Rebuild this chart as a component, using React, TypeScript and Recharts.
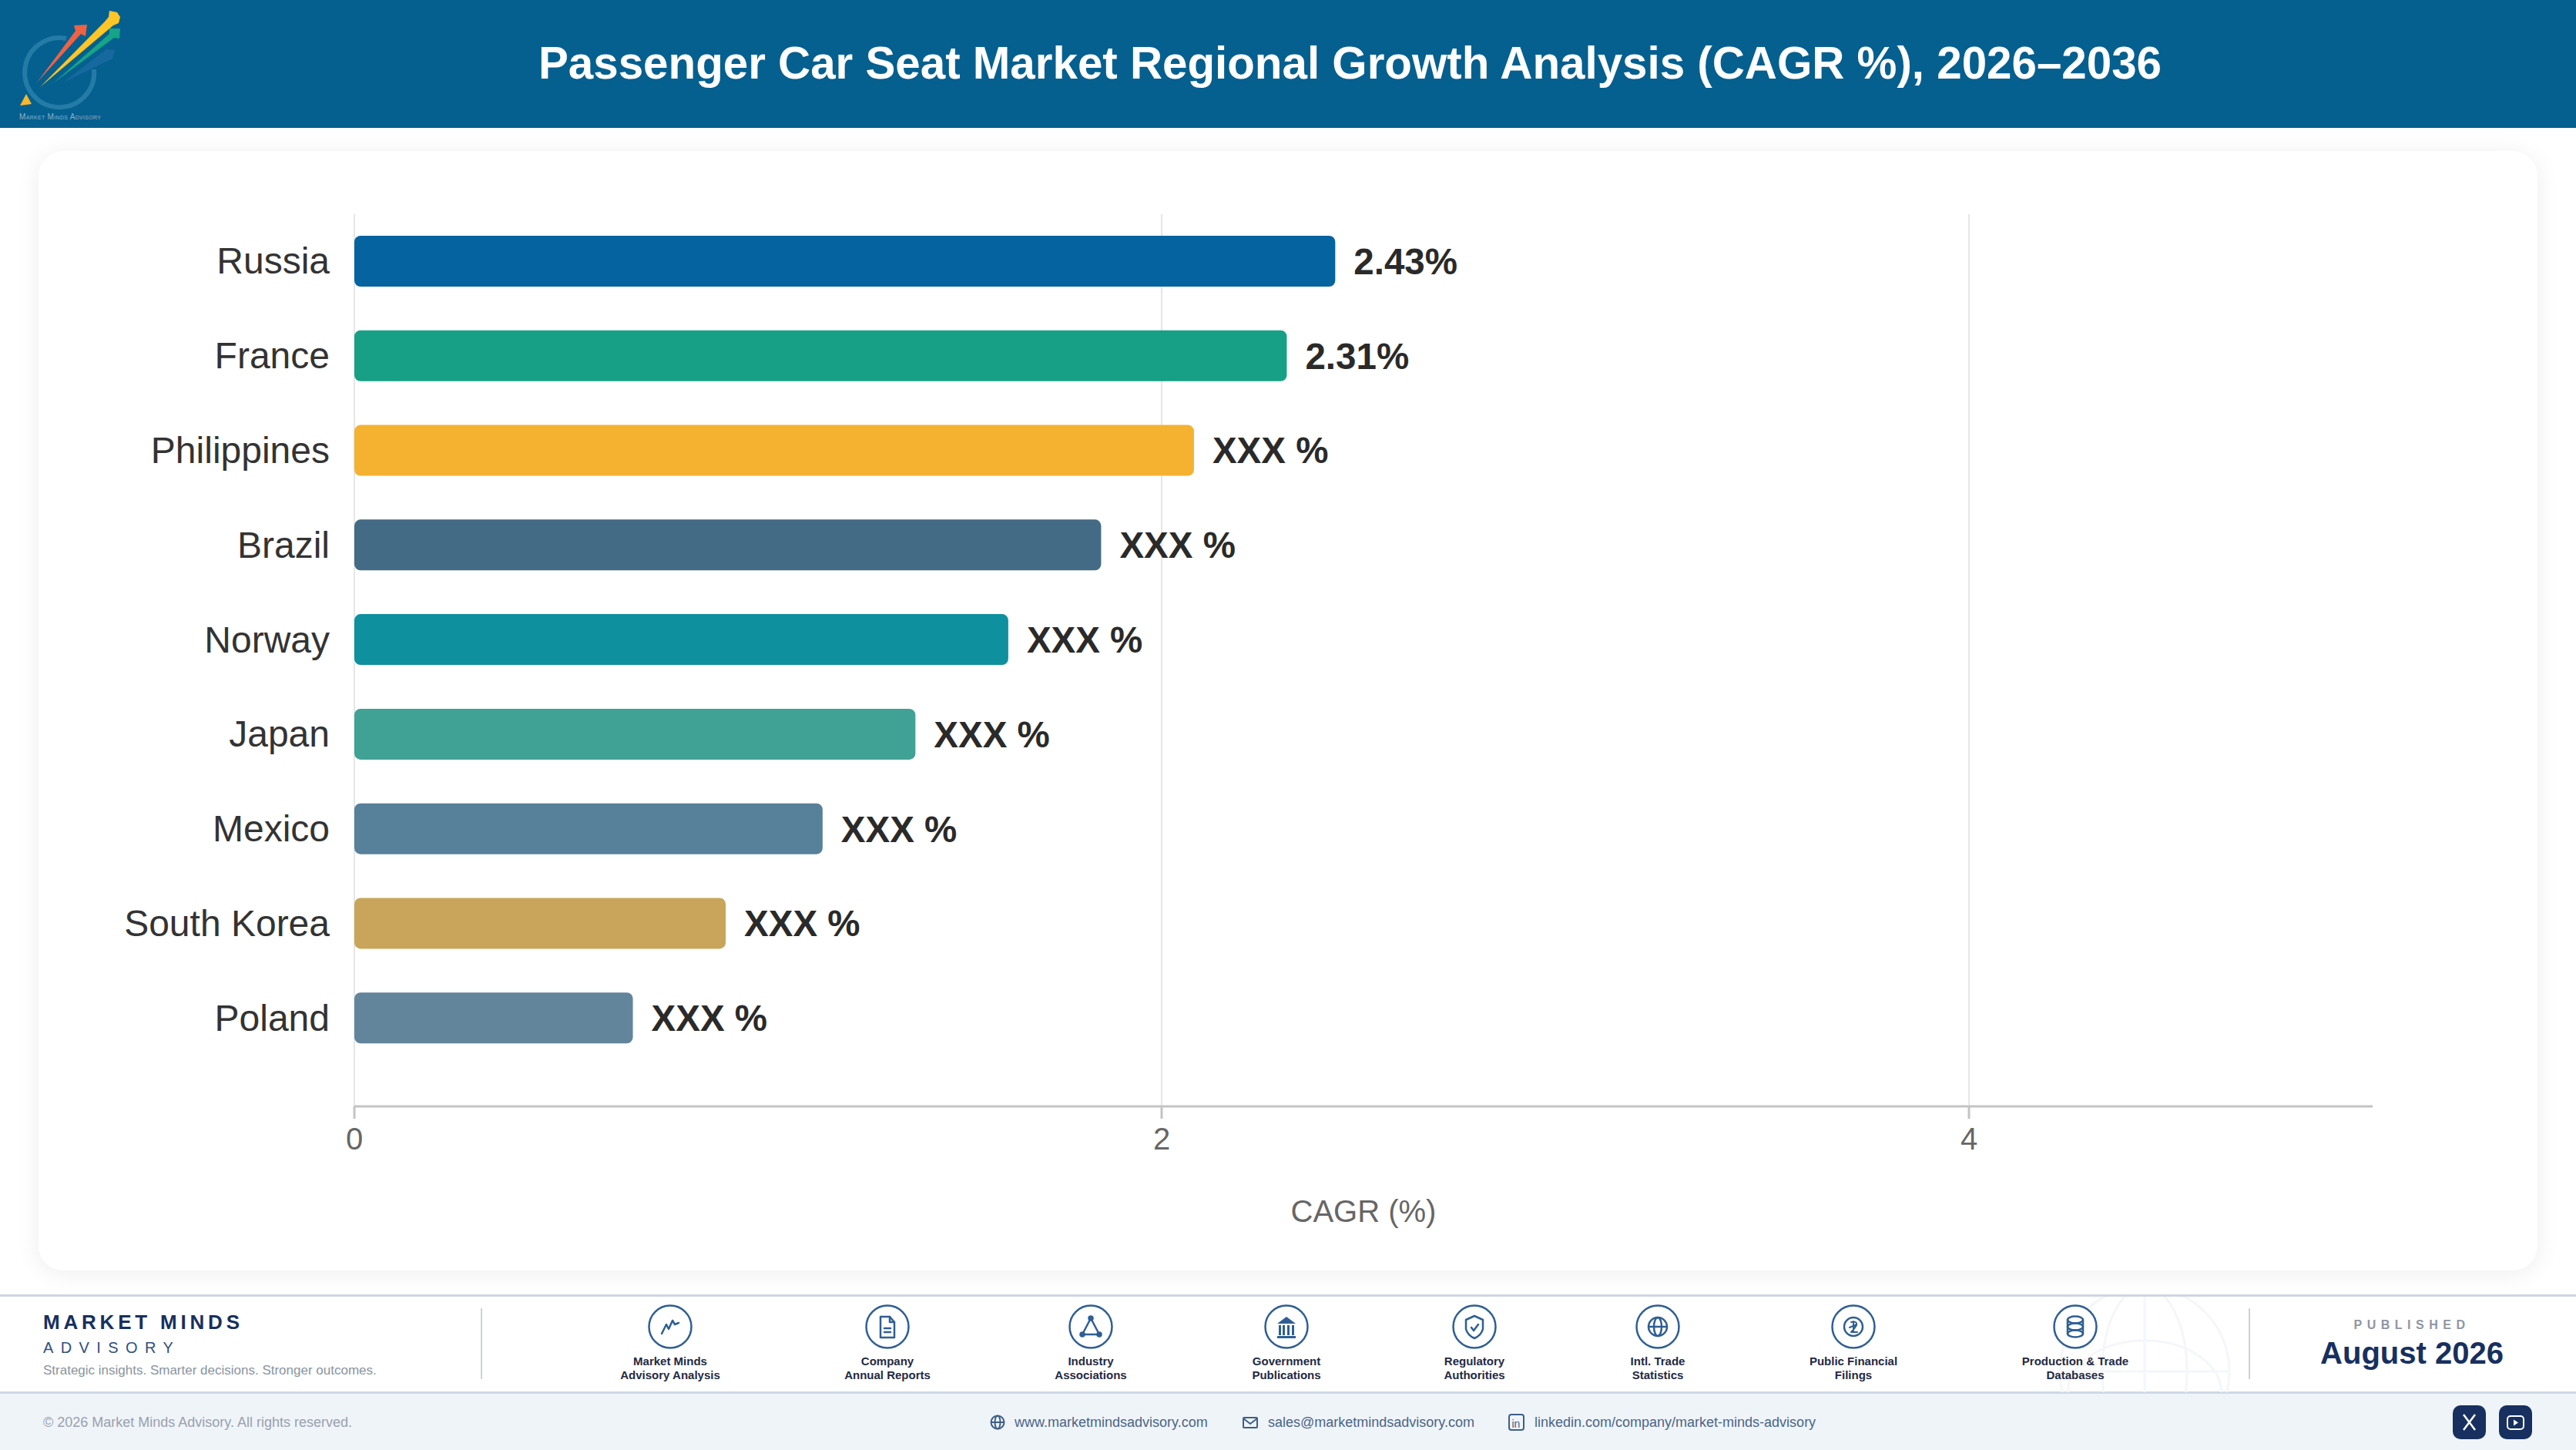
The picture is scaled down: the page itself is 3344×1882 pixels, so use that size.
import { BarChart, Bar, Cell, CartesianGrid, LabelList, XAxis, YAxis } from 'recharts';
import type { CSSProperties, ReactNode } from 'react';

const FONT = '"Liberation Sans", Arial, sans-serif';
const NAVY = '#17305f';
const ICON_BLUE = '#2f5f93';

const countries = ['Russia', 'France', 'Philippines', 'Brazil', 'Norway', 'Japan', 'Mexico', 'South Korea', 'Poland'];
const cagrValues = [2.43, 2.31, 2.08, 1.85, 1.62, 1.39, 1.16, 0.92, 0.69];
const valueLabels = ['2.43%', '2.31%', 'XXX %', 'XXX %', 'XXX %', 'XXX %', 'XXX %', 'XXX %', 'XXX %'];
const barColors = ['#0563a0', '#17a085', '#f5b130', '#436b85', '#0e909e', '#3fa295', '#57809a', '#c8a55a', '#62859c'];
const xTicks = [0, 2, 4];

const sources = [
  { id: 'trend', x: 870, lines: ['Market Minds', 'Advisory Analysis'] },
  { id: 'doc', x: 1152, lines: ['Company', 'Annual Reports'] },
  { id: 'network', x: 1416, lines: ['Industry', 'Associations'] },
  { id: 'bank', x: 1670, lines: ['Government', 'Publications'] },
  { id: 'shield', x: 1914, lines: ['Regulatory', 'Authorities'] },
  { id: 'globe', x: 2152, lines: ['Intl. Trade', 'Statistics'] },
  { id: 'coin', x: 2406, lines: ['Public Financial', 'Filings'] },
  { id: 'db', x: 2694, lines: ['Production & Trade', 'Databases'] },
];

const chartData = countries.map((name, i) => ({ name, value: cagrValues[i], label: valueLabels[i] }));

function Text({ style, children }: { style: CSSProperties; children: ReactNode }) {
  return <div style={{ position: 'absolute', fontFamily: FONT, whiteSpace: 'nowrap', lineHeight: 1, ...style }}>{children}</div>;
}

function Logo() {
  return (
    <svg style={{ position: 'absolute', left: 0, top: 0 }} width={180} height={166}>
      <path d="M 86 50 A 45 45 0 1 0 122 90" fill="none" stroke="#2f86ad" strokeWidth="6" opacity="0.75" />
      <path d="M 82 107 L 138 64 L 149 65 L 146 76 Z" fill="#1a6ca3" opacity="0.8" />
      <path d="M 48 107 L 98 40 L 96 33 L 113 32 L 111 47 L 105 44 Z" fill="#ef6244" />
      <path d="M 52 113 L 136 28 L 141 22 L 142 14 L 152 16 L 156 22 L 154 30 L 147 33 Z" fill="#fdc526" />
      <path d="M 69 108 L 142 44 L 142 37 L 156 37 L 155 50 L 148 49 Z" fill="#16a487" />
      <path d="M 34 122 L 26 137 L 41 135 Z" fill="#fbb62a" />
      <text x="25" y="155" fontFamily={FONT} fontSize="10" fill="#8fb0c5" style={{ fontVariant: 'small-caps' }} textLength="106">
        Market Minds Advisory
      </text>
    </svg>
  );
}

function SourceGlyph({ id }: { id: string }) {
  const s = { fill: 'none', stroke: ICON_BLUE, strokeWidth: 2.5, strokeLinejoin: 'round' as const, strokeLinecap: 'round' as const };
  switch (id) {
    case 'trend':
      return <path d="M -11 9 L -5 -3 L -2 3 L 3 -8 L 6 -3 L 11 -5" {...s} />;
    case 'doc':
      return (
        <g {...s}>
          <path d="M -9 -13 L 3 -13 L 9 -6 L 9 14 L -9 14 Z" />
          <path d="M 3 -13 L 3 -6 L 9 -6 M -4 2 L 4 2 M -4 7 L 4 7" />
        </g>
      );
    case 'network':
      return (
        <g {...s}>
          <path d="M 0 -11 L -11 10 L 11 10 Z" />
          <circle cx="0" cy="-11" r="2.5" fill={ICON_BLUE} />
          <circle cx="-11" cy="10" r="2.5" fill={ICON_BLUE} />
          <circle cx="11" cy="10" r="2.5" fill={ICON_BLUE} />
        </g>
      );
    case 'bank':
      return (
        <g fill={ICON_BLUE}>
          <path d="M 0 -13 L 12 -4 L -12 -4 Z" />
          <rect x="-10" y="-2" width="3" height="13" />
          <rect x="-5" y="-2" width="3" height="13" />
          <rect x="1" y="-2" width="3" height="13" />
          <rect x="7" y="-2" width="3" height="13" />
          <rect x="-12" y="12" width="24" height="3" />
        </g>
      );
    case 'shield':
      return (
        <g {...s}>
          <path d="M 0 -14 L 11 -9 L 11 3 Q 9 11 0 15 Q -9 11 -11 3 L -11 -9 Z" />
          <path d="M -4 1 L -1 5 L 5 -3" />
        </g>
      );
    case 'globe':
      return (
        <g {...s}>
          <circle r="12" />
          <ellipse rx="5" ry="12" />
          <path d="M -12 0 L 12 0" />
        </g>
      );
    case 'coin':
      return (
        <g {...s}>
          <circle r="12" />
          <path d="M -3 -6 Q 5 -8 4 -2 Q 2 2 -3 7 L 5 7 M 0 -7 L 0 7 M -5 1 L 4 -3" strokeWidth="2" />
        </g>
      );
    default:
      return (
        <g {...s}>
          <ellipse cy="-9" rx="10" ry="4.5" />
          <ellipse cy="0" rx="10" ry="4.5" />
          <ellipse cy="9" rx="10" ry="4.5" />
          <path d="M -10 -9 L -10 9 M 10 -9 L 10 9" />
        </g>
      );
  }
}

function Footer() {
  const small = { fill: 'none', stroke: '#3d5f8a', strokeWidth: 2 };
  return (
    <>
      <div style={{ position: 'absolute', left: 0, top: 1680, width: 3344, height: 2.5, background: '#d0d5e3' }} />
      <div style={{ position: 'absolute', left: 0, top: 1806, width: 3344, height: 76, background: '#eff4f9', borderTop: '3px solid #d0d8e6', boxSizing: 'border-box' }} />
      <svg style={{ position: 'absolute', left: 2640, top: 1683 }} width={290} height={124}>
        <g fill="none" stroke="#f5f6f9" strokeWidth="3">
          <circle cx="144" cy="97" r="110" />
          <ellipse cx="144" cy="97" rx="55" ry="110" />
          <path d="M 34 97 L 254 97 M 144 0 L 144 124" />
          <ellipse cx="144" cy="125" rx="100" ry="68" />
        </g>
      </svg>

      <Text style={{ left: 56, top: 1703, fontSize: 26, fontWeight: 700, letterSpacing: 4.8, color: NAVY }}>MARKET MINDS</Text>
      <Text style={{ left: 56, top: 1739, fontSize: 20, letterSpacing: 9.4, color: '#2e5084' }}>ADVISORY</Text>
      <Text style={{ left: 56, top: 1770, fontSize: 17, color: '#8a94a0' }}>Strategic insights. Smarter decisions. Stronger outcomes.</Text>
      <div style={{ position: 'absolute', left: 624, top: 1698, width: 2, height: 92, background: '#cdd2d9' }} />
      <div style={{ position: 'absolute', left: 2919, top: 1698, width: 2, height: 92, background: '#cdd2d9' }} />

      {sources.map((src) => (
        <div key={src.id}>
          <svg style={{ position: 'absolute', left: src.x - 30, top: 1692 }} width={60} height={60}>
            <g transform="translate(30 30)">
              <circle r="27.5" fill="#fff" stroke={ICON_BLUE} strokeWidth="2.5" />
              <SourceGlyph id={src.id} />
            </g>
          </svg>
          {src.lines.map((line, i) => (
            <Text key={line} style={{ left: src.x - 100, width: 200, textAlign: 'center', top: 1759 + i * 18, fontSize: 15, fontWeight: 700, color: '#1f2a44' }}>
              {line}
            </Text>
          ))}
        </div>
      ))}

      <Text style={{ left: 3031, width: 200, textAlign: 'center', top: 1712, fontSize: 16, fontWeight: 700, letterSpacing: 6.5, color: '#8f96a3' }}>PUBLISHED</Text>
      <Text style={{ left: 2981, width: 300, textAlign: 'center', top: 1736, fontSize: 40, fontWeight: 700, color: NAVY }}>August 2026</Text>

      <Text style={{ left: 56, top: 1837, fontSize: 18, color: '#9aa1ad' }}>© 2026 Market Minds Advisory. All rights reserved.</Text>
      <Text style={{ left: 1317, top: 1837, fontSize: 18, color: '#4a6488' }}>www.marketmindsadvisory.com</Text>
      <Text style={{ left: 1646, top: 1837, fontSize: 18, color: '#4a6488' }}>sales@marketmindsadvisory.com</Text>
      <Text style={{ left: 1992, top: 1837, fontSize: 18, color: '#4a6488' }}>linkedin.com/company/market-minds-advisory</Text>
      <svg style={{ position: 'absolute', left: 1280, top: 1830 }} width={710} height={32}>
        <g {...small}>
          <circle cx="15" cy="16" r="8.5" />
          <ellipse cx="15" cy="16" rx="3.5" ry="8.5" />
          <path d="M 6.5 16 L 23.5 16" />
          <rect x="334" y="10" width="18" height="13" rx="1" />
          <path d="M 334 11 L 343 18 L 352 11" />
          <rect x="679" y="6" width="19" height="20" rx="3" />
        </g>
        <text x="682.5" y="23" fontFamily={FONT} fontSize="14" fill="#3d5f8a">in</text>
      </svg>

      <svg style={{ position: 'absolute', left: 3184, top: 1824 }} width={104} height={44}>
        <rect x="0" y="0" width="43" height="44" rx="10" fill={NAVY} />
        <rect x="60" y="0" width="43" height="44" rx="10" fill={NAVY} />
        <path d="M 14 12 L 29 32 M 29 12 L 14 32" stroke="#fff" strokeWidth="2.5" fill="none" />
        <rect x="71" y="14" width="21" height="17" rx="4" stroke="#fff" strokeWidth="2" fill="none" />
        <path d="M 79 18.5 L 85 22.5 L 79 26.5 Z" fill="#fff" />
      </svg>
    </>
  );
}

export default function App() {
  return (
    <div style={{ position: 'absolute', left: 0, top: 0, width: 3344, height: 1882, background: '#fff', overflow: 'hidden' }}>
      <div style={{ position: 'absolute', left: 0, top: 0, width: 3344, height: 166, background: '#056090' }} />
      <Logo />
      <Text style={{ left: 0, width: 3505, textAlign: 'center', top: 53, fontSize: 58.3, fontWeight: 700, color: '#fff' }}>
        Passenger Car Seat Market Regional Growth Analysis (CAGR %), 2026–2036
      </Text>
      <div style={{ position: 'absolute', left: 50, top: 196, width: 3244, height: 1453, background: '#fff', borderRadius: 32, boxShadow: '0 4px 32px rgba(0,0,0,0.07)' }} />

      <div style={{ position: 'absolute', left: 0, top: 0 }}>
        <BarChart width={3344} height={1882} data={chartData} layout="vertical" margin={{ top: 278, right: 264, bottom: 296, left: 0 }} barCategoryGap={0}>
          <CartesianGrid horizontal={false} verticalValues={xTicks} stroke="#e6e6e6" strokeWidth={2} />
          <XAxis
            type="number"
            domain={[0, 5]}
            ticks={xTicks}
            height={150}
            stroke="#c4c4c4"
            strokeWidth={3}
            tickSize={16}
            tickMargin={12}
            tick={{ fontSize: 40, fontFamily: FONT, fill: '#666666', stroke: 'none' }}
            label={{ value: 'CAGR (%)', position: 'insideBottom', offset: 0, fontSize: 40, fontFamily: FONT, fill: '#666666' }}
          />
          <YAxis
            type="category"
            dataKey="name"
            width={460}
            axisLine={false}
            tickLine={false}
            tickSize={0}
            tickMargin={32}
            padding={{ top: 0, bottom: 53 }}
            interval={0}
            tick={{ fontSize: 48, fontFamily: FONT, fill: '#333333', dy: -1 }}
          />
          <Bar dataKey="value" barSize={66} radius={8} isAnimationActive={false}>
            {chartData.map((d, i) => (
              <Cell key={d.name} fill={barColors[i]} />
            ))}
            <LabelList dataKey="label" position="right" offset={24} fontSize={47.5} fontWeight={700} fontFamily={FONT} fill="#2a2a2a" />
          </Bar>
        </BarChart>
      </div>
      <Footer />
    </div>
  );
}
